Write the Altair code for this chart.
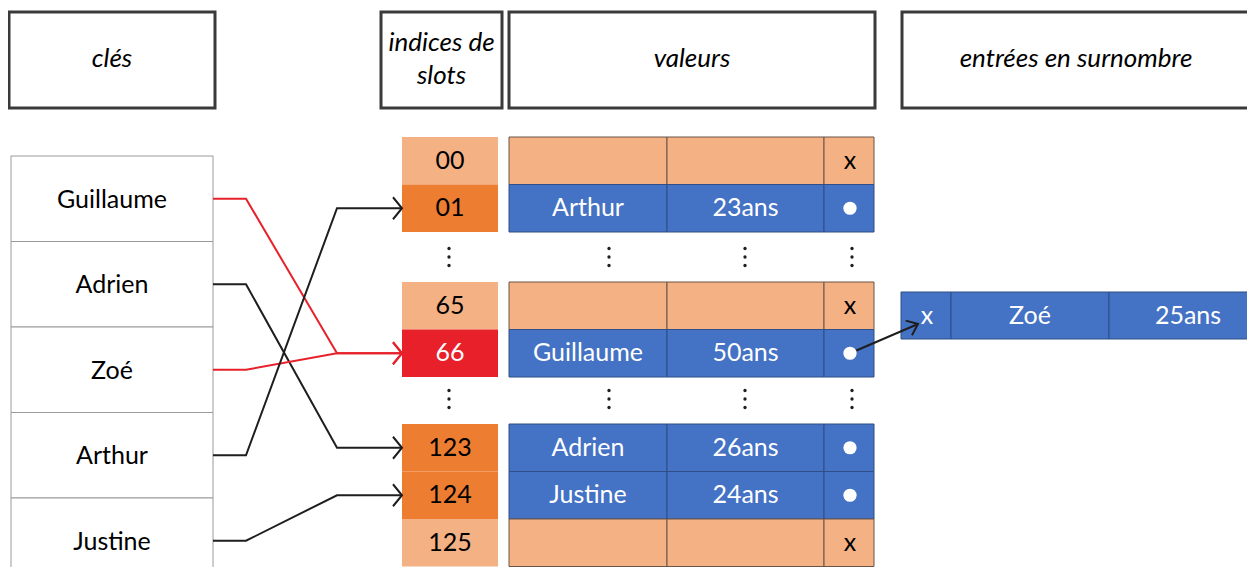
import altair as alt
import pandas as pd

# ---------------- content ----------------
header_labels = ["clés", "indices de\nslots", "valeurs", "entrées en surnombre"]
key_names = ["Guillaume", "Adrien", "Zoé", "Arthur", "Justine"]
slot_labels = ["00", "01", "65", "66", "123", "124", "125"]
slot_state = ["vide", "occupé", "vide", "collision", "occupé", "occupé", "vide"]
value_names = ["", "Arthur", "", "Guillaume", "Adrien", "Justine", ""]
value_ages = ["", "23ans", "", "50ans", "26ans", "24ans", ""]
value_next = ["x", "●", "x", "●", "●", "●", "x"]
overflow_cells = ["x", "Zoé", "25ans"]
key_to_slot = {"Guillaume": "66", "Adrien": "123", "Zoé": "66", "Arthur": "01", "Justine": "124"}
collision_keys = ["Guillaume", "Zoé"]

# ---------------- layout ----------------
header_x0 = [9, 381, 509, 902]
header_x1 = [215, 502, 875, 1250]
header_y0, header_y1 = 12, 108
header_line_h = 33
key_x0, key_x1 = 11, 213
key_top = [156, 241.5, 327, 412.5, 498]
key_h = 85.5
slot_x0, slot_x1 = 402, 498
slot_top = [137, 184.5, 282, 329.5, 424, 471.5, 519]
slot_h = 47.5
value_cols = [509, 667, 824, 874]
overflow_cols = [901, 951, 1109, 1270]
overflow_y0, overflow_y1 = 292, 339
ellipsis_x = [449, 609, 745, 852]
ellipsis_y = [257, 399]
bend_x = [246, 337]

LIGHT = "#F4B183"
DARK = "#ED7D31"
RED = "#E8202A"
BLUE = "#4472C4"
state_fill = {"vide": LIGHT, "occupé": DARK, "collision": RED}

# ---------------- tables ----------------
rects = []
for x0, x1 in zip(header_x0, header_x1):
    rects.append(dict(x0=x0, x1=x1, y0=header_y0, y1=header_y1, fill="white", stroke="#3a3a3a", sw=3))
for t in key_top:
    rects.append(dict(x0=key_x0, x1=key_x1, y0=t, y1=t + key_h, fill="white", stroke="#9a9a9a", sw=1))
for t, st in zip(slot_top, slot_state):
    rects.append(dict(x0=slot_x0, x1=slot_x1, y0=t, y1=t + slot_h, fill=state_fill[st], stroke=state_fill[st], sw=0))
for t, nm in zip(slot_top, value_names):
    f = BLUE if nm else LIGHT
    s = "#2F4F86" if nm else "#6b5548"
    for c in range(3):
        rects.append(dict(x0=value_cols[c], x1=value_cols[c + 1], y0=t, y1=t + slot_h, fill=f, stroke=s, sw=1))
for c in range(3):
    rects.append(dict(x0=overflow_cols[c], x1=overflow_cols[c + 1], y0=overflow_y0, y1=overflow_y1,
                      fill=BLUE, stroke="#2F4F86", sw=1))
rects = pd.DataFrame(rects)

head_texts = []
for lab, x0, x1 in zip(header_labels, header_x0, header_x1):
    nlines = lab.count("\n") + 1
    yc = (header_y0 + header_y1) / 2 - 1 - (nlines - 1) * header_line_h / 2
    head_texts.append(dict(x=(x0 + x1) / 2, y=yc, t=lab))
head_texts = pd.DataFrame(head_texts)

texts = []
for nm, t in zip(key_names, key_top):
    texts.append(dict(x=(key_x0 + key_x1) / 2, y=t + key_h / 2 + 1, t=nm, c="black"))
for lab, t, stt in zip(slot_labels, slot_top, slot_state):
    texts.append(dict(x=(slot_x0 + slot_x1) / 2, y=t + slot_h / 2, t=lab,
                      c="white" if stt == "collision" else "black"))
for t, nm, ag, nx in zip(slot_top, value_names, value_ages, value_next):
    yc = t + slot_h / 2
    if nm:
        texts.append(dict(x=(value_cols[0] + value_cols[1]) / 2, y=yc, t=nm, c="white"))
        texts.append(dict(x=(value_cols[1] + value_cols[2]) / 2, y=yc, t=ag, c="white"))
    if nx == "x":
        texts.append(dict(x=(value_cols[2] + value_cols[3]) / 2 + 1, y=yc, t="x", c="black"))
ov_x = [(overflow_cols[0] + overflow_cols[1]) / 2 + 1, (overflow_cols[1] + overflow_cols[2]) / 2, 1188]
for lab, xc in zip(overflow_cells, ov_x):
    texts.append(dict(x=xc, y=(overflow_y0 + overflow_y1) / 2, t=lab, c="white"))
texts = pd.DataFrame(texts)

dots = []
for t, nx in zip(slot_top, value_next):
    if nx == "●":
        dots.append(dict(x=(value_cols[2] + value_cols[3]) / 2 + 1, y=t + slot_h / 2))
dots = pd.DataFrame(dots)

ell = []
for yc in ellipsis_y:
    for xc in ellipsis_x:
        for d in (-8.5, 0, 8.5):
            ell.append(dict(x=xc, y=yc + d))
ell = pd.DataFrame(ell)

paths = []
def add_path(pid, pts, color):
    for i, (px, py) in enumerate(pts):
        paths.append(dict(id=pid, o=i, x=px, y=py, c=color))

def arrow_head(pid, tip, frm, back, half, color):
    dx, dy = tip[0] - frm[0], tip[1] - frm[1]
    L = (dx * dx + dy * dy) ** 0.5
    ux, uy = dx / L, dy / L
    px, py = -uy, ux
    a1 = (tip[0] - back * ux + half * px, tip[1] - back * uy + half * py)
    a2 = (tip[0] - back * ux - half * px, tip[1] - back * uy - half * py)
    add_path(pid, [a1, tip, a2], color)

for k, t in zip(key_names, key_top):
    s = slot_labels.index(key_to_slot[k])
    ys_ = t + key_h / 2
    ye = slot_top[s] + slot_h / 2
    col = RED if k in collision_keys else "#1e1e1e"
    add_path(k, [(key_x1, ys_), (bend_x[0], ys_), (bend_x[1], ye), (slot_x0, ye)], col)
    arrow_head(k + "_h", (slot_x0, ye), (bend_x[1], ye), 9, 11, col)

s66 = slot_labels.index("66")
start = ((value_cols[2] + value_cols[3]) / 2 + 1, slot_top[s66] + slot_h / 2)
tip = (918, 324)
add_path("chain", [start, tip], "#1e1e1e")
arrow_head("chain_h", tip, start, 10, 8, "#1e1e1e")
paths = pd.DataFrame(paths)

# ---------------- chart ----------------
xs = alt.Scale(domain=[8, 1247], nice=False, zero=False)
ys = alt.Scale(domain=[8, 567], nice=False, zero=False, reverse=True)

def XY(xf="x", yf="y"):
    return dict(x=alt.X(f"{xf}:Q", scale=xs, axis=None), y=alt.Y(f"{yf}:Q", scale=ys, axis=None))

rect_layer = alt.Chart(rects).mark_rect(clip=True).encode(
    **XY("x0", "y0"), x2="x1:Q", y2="y1:Q",
    fill=alt.Fill("fill:N", scale=None),
    stroke=alt.Stroke("stroke:N", scale=None),
    strokeWidth=alt.StrokeWidth("sw:Q", scale=None),
)

line_layer = alt.Chart(paths).mark_line(strokeWidth=2, clip=True, strokeJoin="miter").encode(
    **XY(), detail="id:N", order="o:Q",
    color=alt.Color("c:N", scale=None),
)

dot_layer = alt.Chart(dots).mark_circle(size=175, color="white", opacity=1).encode(**XY())
ell_layer = alt.Chart(ell).mark_circle(size=11, color="#1e1e1e", opacity=1).encode(**XY())

head_layer = alt.Chart(head_texts).mark_text(font="Lato", fontSize=26, fontStyle="italic",
                                             baseline="middle", align="center",
                                             lineBreak="\n", lineHeight=header_line_h,
                                             color="black").encode(
    **XY(), text="t:N")

text_layer = alt.Chart(texts).mark_text(font="Lato", fontSize=25, baseline="middle",
                                        align="center").encode(
    **XY(), text="t:N", color=alt.Color("c:N", scale=None))

chart = alt.layer(rect_layer, line_layer, dot_layer, ell_layer, head_layer, text_layer).properties(
    width=1239, height=559, padding=0, autosize="none", background="white"
).configure_view(stroke=None)

chart.save("out.html", embed_options={"renderer": "svg", "actions": False})
